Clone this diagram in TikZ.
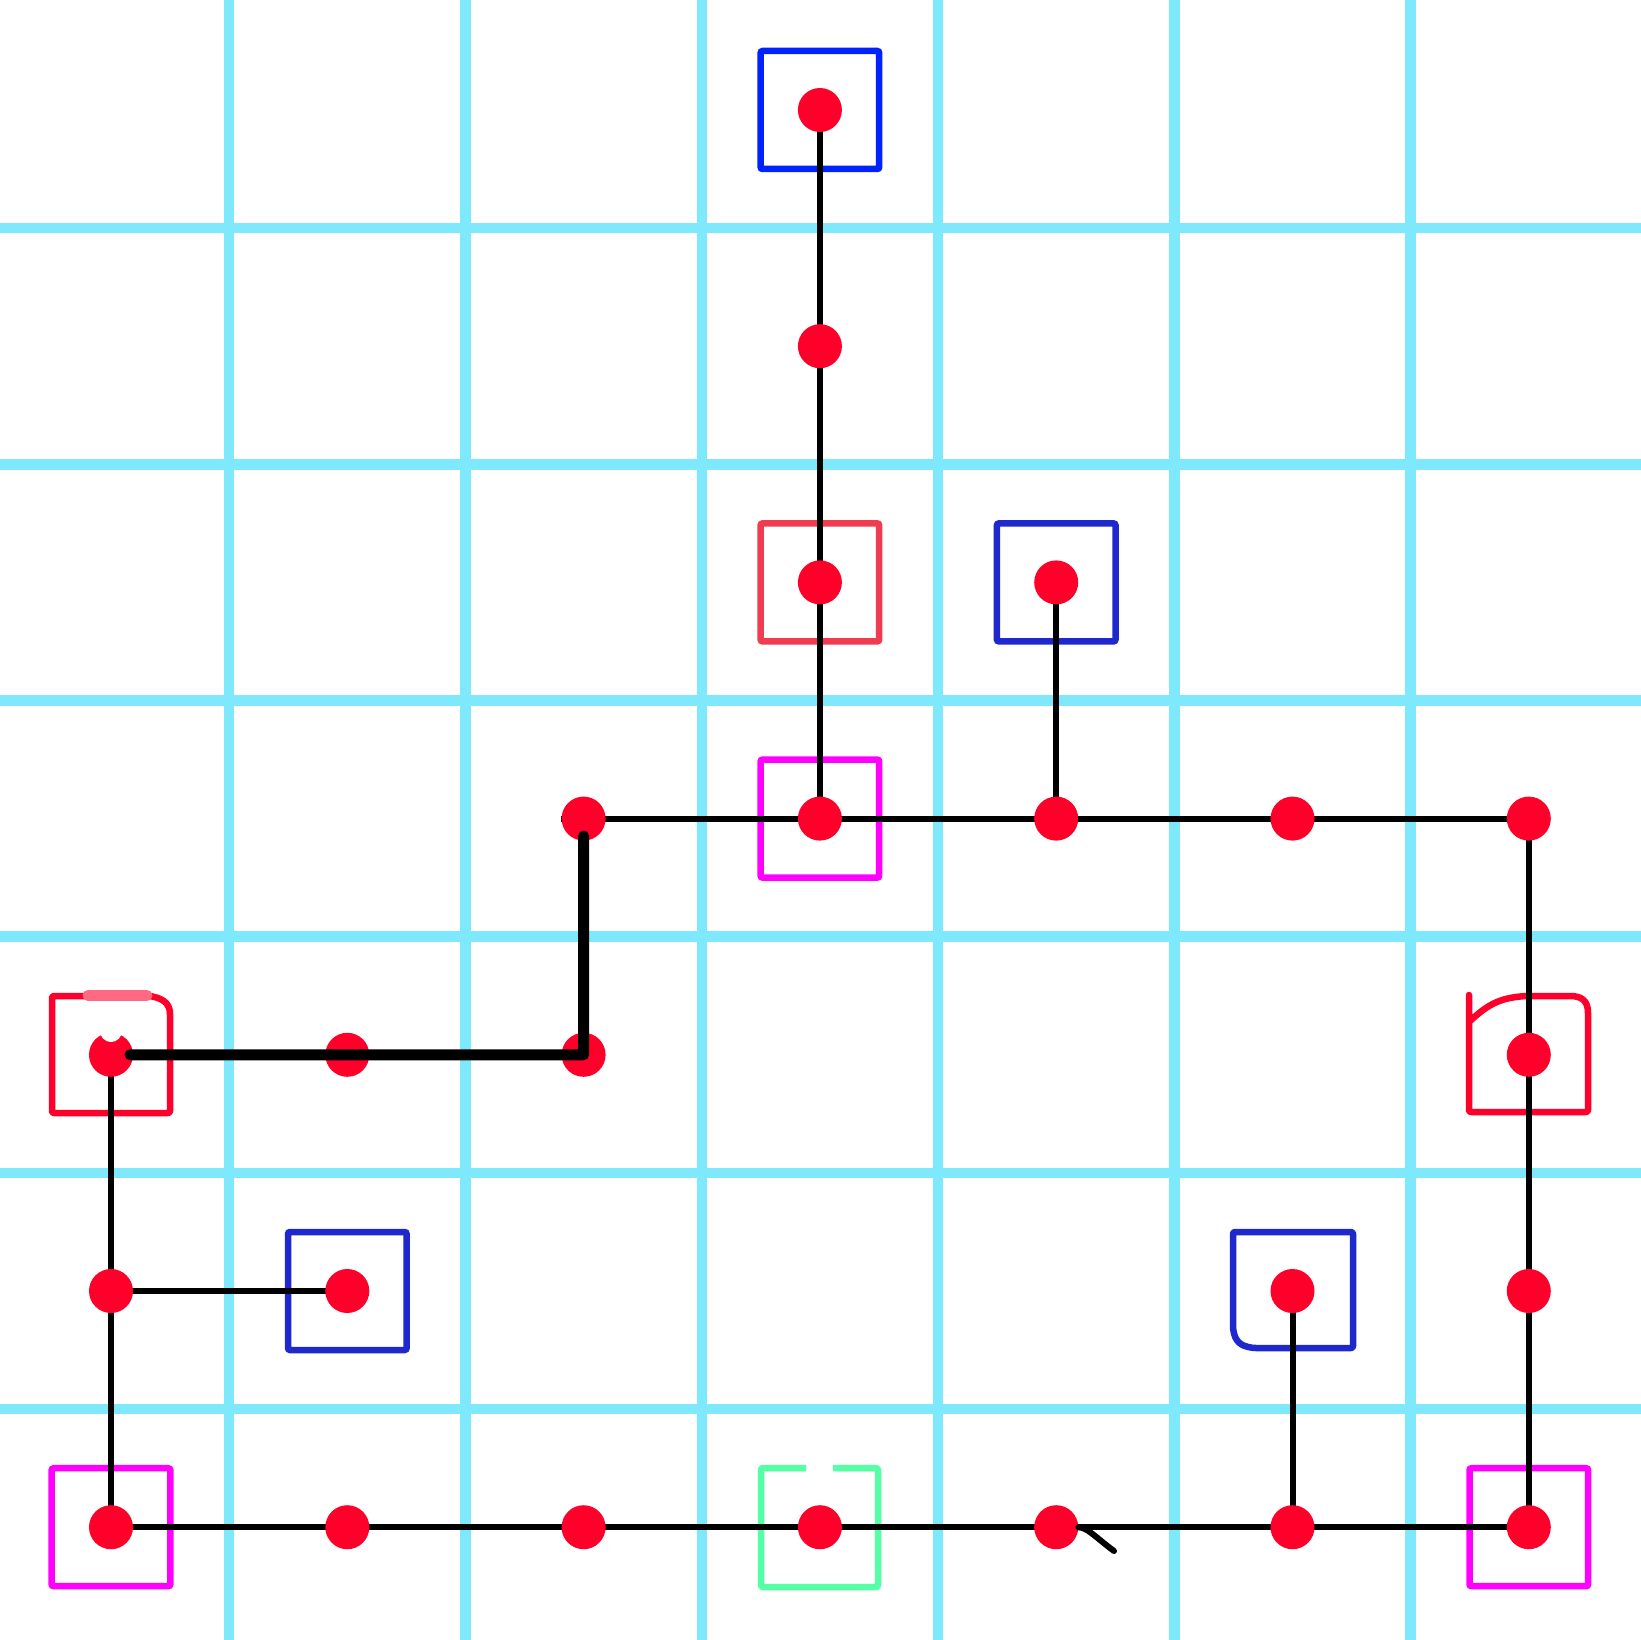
\documentclass[tikz,border=0pt]{standalone}
\definecolor{gridc}{RGB}{126,232,252}
\definecolor{dotred}{RGB}{255,0,42}
\definecolor{bblue}{RGB}{0,34,255}
\definecolor{dblue}{RGB}{30,40,205}
\definecolor{lred}{RGB}{240,60,80}
\definecolor{mag}{RGB}{255,0,255}
\definecolor{grn}{RGB}{85,255,165}
\definecolor{pinkc}{RGB}{255,105,130}
\pgfdeclarelayer{bg}
\pgfdeclarelayer{boxes}
\pgfdeclarelayer{wires}
\pgfdeclarelayer{front}
\pgfsetlayers{bg,boxes,wires,main,front}
\tikzset{
  gridline/.style={draw=gridc,line width=10.5pt},
  boxshape/.style={rectangle,minimum width=118.6pt,minimum height=118pt,inner sep=0pt,line width=6.5pt,rounded corners=2pt},
  boxpath/.style={line width=6.5pt,rounded corners=2pt,line join=round,line cap=round},
  dotnode/.style={circle,fill=dotred,minimum size=44pt,inner sep=0pt},
  conn/.style={draw=black,line width=6pt},
  thickconn/.style={draw=black,line width=11pt,line cap=round,line join=round}
}
\begin{document}
\begin{tikzpicture}[x=1pt,y=-1pt]
\useasboundingbox (0,0) rectangle (1641,1640);
\begin{pgfonlayer}{bg}
\fill[white] (0,0) rectangle (1641,1640);
\foreach \g in {229.2,465.5,701.8,938.1,1174.4,1410.7}{
  \draw[gridline] (\g,0) -- (\g,1640);
}
\foreach \g in {228.1,464.3,700.5,936.7,1172.9,1409.1}{
  \draw[gridline] (0,\g) -- (1641,\g);
}
\end{pgfonlayer}
% cell centres
\foreach \i in {0,...,6}{
  \foreach \j in {0,...,6}{
    \coordinate (c\i\j) at ({111+236.3*\i},{110+236.2*\j});
  }
}
\begin{pgfonlayer}{boxes}
\node[boxshape,draw=bblue] (b30) at (c30) {};
\node[boxshape,draw=lred] (b32) at (c32) {};
\node[boxshape,draw=dblue] (b42) at (c42) {};
\node[boxshape,draw=mag] (b33) at (c33) {};
\node[boxshape,draw=dblue] (b15) at (c15) {};
\node[boxshape,draw=mag] (b06) at (c06) {};
\node[boxshape,draw=mag] (b66) at (c66) {};
\draw[boxpath,draw=dotred] (52,1113) -- (52,996) -- (150,996) .. controls (165,999) and (170,1005) .. (170,1016) -- (170,1113) -- cycle;
\draw[pinkc,line width=11pt,line cap=round] (88,995.5) -- (147,995.5);
\draw[boxpath,draw=dotred] (1469,995) -- (1469,1112) -- (1588,1112) -- (1588,1015) .. controls (1588,1001) and (1582,996) .. (1568,996) -- (1526,996) .. controls (1500,998) and (1488,1004) .. (1469,1022);
\draw[boxpath,draw=dblue] (1233,1232) -- (1353,1232) -- (1353,1348) -- (1254,1348) .. controls (1240,1346) and (1235,1341) .. (1233,1328) -- cycle;
\draw[boxpath,draw=grn,line cap=butt] (806,1468) -- (761,1468) -- (761,1587) -- (878,1587) -- (878,1468) -- (833,1468);
\end{pgfonlayer}
% dots
\foreach \n in {30,31,32,42,23,33,43,53,63,04,14,24,64,05,15,55,65,06,16,26,36,46,56,66}{
  \node[dotnode] (d\n) at (c\n) {};
}
\begin{pgfonlayer}{wires}
\draw[conn] (d30.center) -- (d31.center) -- (d32.center) -- (d33.center);
\draw[conn] (d42.center) -- (d43.center);
\draw[conn] (d23.west) -- (d33.center) -- (d43.center) -- (d53.center) -- (d63.center);
\draw[conn] (d63.center) -- (d64.center) -- (d65.center) -- (d66.center);
\draw[conn] (d06.center) -- (d16.center) -- (d26.center) -- (d36.center) -- (d46.center) -- (d56.center) -- (d66.center);
\draw[conn] (d04.center) -- (d05.center) -- (d06.center);
\draw[conn] (d05.center) -- (d15.center);
\draw[conn] (d55.center) -- (d56.center);
\end{pgfonlayer}
\begin{pgfonlayer}{front}
% notch in the dot at (0,4)
\fill[white] (111,1031) circle (11pt);
% hook
\coordinate (hk) at (1114,1551);
\draw[conn,line cap=round] (d46.east) .. controls (1088,1528) and (1094,1536) .. (hk);
% thick connector
\coordinate (ts) at (130,1054.8);
\coordinate (te) at (583.6,836);
\draw[thickconn] (ts) -- (d24.center) -- (te);
\end{pgfonlayer}
\end{tikzpicture}
\end{document}
